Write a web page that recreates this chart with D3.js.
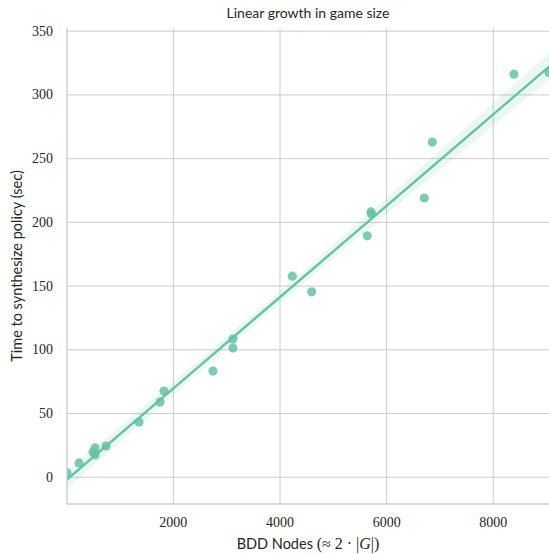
<!DOCTYPE html>
<html>
<head>
<meta charset="utf-8">
<script src="https://cdn.jsdelivr.net/npm/d3@7"></script>
<style>
  html, body { margin: 0; padding: 0; background: #fff; }
  svg { display: block; }
</style>
</head>
<body>
<svg id="chart" width="549" height="554"></svg>
<script>
// BDD node counts and measured synthesis times
const bddNodes = [5, 231, 493, 531, 531, 737, 1356, 1749, 1824, 2743, 3118, 3118,
                  4230, 4594, 5636, 5706, 5716, 6706, 6856, 8387, 9045];
const synthSeconds = [3.4, 11.2, 19.8, 23.0, 17.5, 24.5, 43.3, 59.0, 67.6, 83.3, 108.4, 101.4,
                      157.8, 145.5, 189.4, 208.2, 206.5, 219.1, 263.0, 316.3, 317.5];
const xTicks = [2000, 4000, 6000, 8000];
const yTicks = [0, 50, 100, 150, 200, 250, 300, 350];

const W = 549, H = 554;
const margin = { top: 28, right: 0, bottom: 50, left: 67 };
const color = "#66c2a5";
const gridColor = "#cccccc";

const svg = d3.select("#chart");
const x = d3.scaleLinear().domain(d3.extent(bddNodes)).range([margin.left, W - margin.right]);
const y = d3.scaleLinear().domain([-21, 352.5]).range([H - margin.bottom, margin.top]);

const pts = bddNodes.map((v, i) => ({ x: v, y: synthSeconds[i] }));

// Gridlines
const grid = svg.append("g");
grid.selectAll("line.gx").data(xTicks).join("line")
  .attr("x1", d => x(d)).attr("x2", d => x(d))
  .attr("y1", y.range()[0]).attr("y2", y.range()[1])
  .attr("stroke", gridColor).attr("stroke-width", 1);
grid.selectAll("line.gy").data(yTicks).join("line")
  .attr("x1", x.range()[0]).attr("x2", x.range()[1])
  .attr("y1", d => y(d)).attr("y2", d => y(d))
  .attr("stroke", gridColor).attr("stroke-width", 1);

// Least-squares fit with 95% confidence band
const n = pts.length;
const mx = d3.mean(pts, d => d.x), my = d3.mean(pts, d => d.y);
const sxx = d3.sum(pts, d => (d.x - mx) ** 2);
const sxy = d3.sum(pts, d => (d.x - mx) * (d.y - my));
const slope = sxy / sxx, intercept = my - slope * mx;
const sse = d3.sum(pts, d => (d.y - (intercept + slope * d.x)) ** 2);
const s = Math.sqrt(sse / (n - 2));
const tCrit = 2.093;
const xs = d3.range(0, 101).map(i => x.domain()[0] + (x.domain()[1] - x.domain()[0]) * i / 100);
const band = xs.map(v => {
  const yh = intercept + slope * v;
  const se = s * Math.sqrt(1 / n + (v - mx) ** 2 / sxx);
  return { x: v, lo: yh - tCrit * se, hi: yh + tCrit * se, yh };
});

svg.append("clipPath").attr("id", "plot-clip").append("rect")
  .attr("x", margin.left).attr("y", margin.top)
  .attr("width", W - margin.left - margin.right)
  .attr("height", H - margin.top - margin.bottom);

const plot = svg.append("g").attr("clip-path", "url(#plot-clip)");

plot.append("path").datum(band)
  .attr("d", d3.area().x(d => x(d.x)).y0(d => y(d.lo)).y1(d => y(d.hi)))
  .attr("fill", color).attr("fill-opacity", 0.13);

plot.selectAll("circle").data(pts).join("circle")
  .attr("cx", d => x(d.x)).attr("cy", d => y(d.y)).attr("r", 4.6)
  .attr("fill", color).attr("fill-opacity", 0.85);

plot.append("path").datum(band)
  .attr("d", d3.line().x(d => x(d.x)).y(d => y(d.yh)))
  .attr("fill", "none").attr("stroke", color).attr("stroke-width", 2.4);

// Axes spines
svg.append("line")
  .attr("x1", margin.left).attr("x2", margin.left)
  .attr("y1", margin.top).attr("y2", H - margin.bottom)
  .attr("stroke", gridColor).attr("stroke-width", 1.4);
svg.append("line")
  .attr("x1", margin.left).attr("x2", W)
  .attr("y1", H - margin.bottom).attr("y2", H - margin.bottom)
  .attr("stroke", gridColor).attr("stroke-width", 1.4);

// Tick labels
const tickFont = "'Liberation Serif', 'DejaVu Serif', serif";
svg.append("g").selectAll("text").data(xTicks).join("text")
  .attr("x", d => x(d)).attr("y", H - margin.bottom + 23)
  .attr("text-anchor", "middle")
  .attr("font-family", tickFont).attr("font-size", 14).attr("fill", "#262626")
  .text(d => d);
svg.append("g").selectAll("text").data(yTicks).join("text")
  .attr("x", margin.left - 14).attr("y", d => y(d) + 4.5)
  .attr("text-anchor", "end")
  .attr("font-family", tickFont).attr("font-size", 14).attr("fill", "#262626")
  .text(d => d);

// Title and axis labels
const sans = "Lato, 'Open Sans', sans-serif";
svg.append("text")
  .attr("x", (margin.left + W) / 2).attr("y", 18)
  .attr("text-anchor", "middle")
  .attr("font-family", sans).attr("font-size", 14).attr("fill", "#262626")
  .text("Linear growth in game size");

const xl = svg.append("text")
  .attr("x", (margin.left + W) / 2).attr("y", 549)
  .attr("text-anchor", "middle")
  .attr("font-family", sans).attr("font-size", 14.5).attr("fill", "#262626");
xl.append("tspan").text("BDD Nodes ");
xl.append("tspan").attr("font-family", tickFont).attr("font-size", 16).text("(≈ 2 · |");
xl.append("tspan").attr("font-family", tickFont).attr("font-size", 16).attr("font-style", "italic").text("G");
xl.append("tspan").attr("font-family", tickFont).attr("font-size", 16).text("|)");

svg.append("text")
  .attr("transform", `translate(22, ${(margin.top + H - margin.bottom) / 2}) rotate(-90)`)
  .attr("text-anchor", "middle")
  .attr("font-family", sans).attr("font-size", 14.5).attr("fill", "#262626")
  .text("Time to synthesize policy (sec)");
</script>
</body>
</html>
